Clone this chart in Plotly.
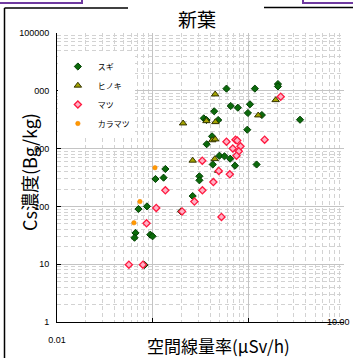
import plotly.graph_objects as go

# 空間線量率 (μSv/h) と Cs濃度 (Bg/kg) ― 樹種別
sugi_x = [0.591, 1.17, 2.04, 2.04, 0.655, 0.776, 1.04, 0.44, 0.99, 1.385, 3.47, 0.342, 0.365,
          0.484, 0.974, 0.418, 0.367, 0.499, 0.563, 0.646, 0.425, 0.725, 1.22, 0.308, 0.308,
          0.1357, 0.130, 0.107, 0.262, 0.0871, 0.0711, 0.198, 0.0662, 0.0646, 0.0944, 0.0998, 0.0822]
sugi_y = [10900, 10900, 13100, 11900, 5460, 5100, 5840, 4420, 4130, 3810, 3160, 3340, 3125,
          3125, 2120, 1630, 1190, 754, 736, 669, 531, 506, 531, 332, 283,
          444, 314, 298, 151, 100, 90, 82, 34.7, 28.7, 32.4, 30.4, 9.7]

hinoki_x = [0.45, 1.93, 1.27, 0.208, 0.365, 0.453, 0.42, 0.45, 0.262, 0.446, 0.484]
hinoki_y = [8700, 6930, 3770, 2740, 3000, 2885, 1400, 1450, 622, 661, 415]

matsu_x = [2.18, 0.591, 0.734, 0.765, 1.48, 0.688, 0.828, 0.795, 0.752, 0.33, 0.491, 0.64,
           0.431, 0.1357, 0.331, 0.273, 0.109, 0.203, 0.524, 0.0863, 0.0564, 0.0791]
matsu_y = [7900, 1316, 1426, 1380, 1426, 1004, 1096, 898, 754, 618, 410, 359,
           264, 190, 190, 121, 94, 82, 65.6, 51, 9.8, 9.8]

karamatsu_x = [0.1057, 0.0736, 0.0637]
karamatsu_y = [467, 121, 52]

y_tick_vals = [1, 10, 100, 1000, 10000, 100000]
y_tick_text = ["1", "10", "100", "000", "000", "100000"]
x_tick_vals = [0.01, 0.1, 1, 10]
x_tick_text = ["0.01", "", "", ""]
x_end_label = "10.00"

JP = "Noto Sans CJK JP"
LAT = "Liberation Sans, Arial, sans-serif"

fig = go.Figure()
fig.add_trace(go.Scatter(
    x=sugi_x, y=sugi_y, mode="markers", name="スギ",
    marker=dict(symbol="diamond", size=5.5, color="#0b6a0b", line=dict(color="#034003", width=1))))
fig.add_trace(go.Scatter(
    x=hinoki_x, y=hinoki_y, mode="markers", name="ヒノキ",
    marker=dict(symbol="triangle-up", size=6.5, color="#a3a300", line=dict(color="#333300", width=1))))
fig.add_trace(go.Scatter(
    x=matsu_x, y=matsu_y, mode="markers", name="マツ",
    marker=dict(symbol="diamond", size=5.5, color="#ffb3c6", line=dict(color="#ff1a40", width=1.3))))
fig.add_trace(go.Scatter(
    x=karamatsu_x, y=karamatsu_y, mode="markers", name="カラマツ",
    marker=dict(symbol="circle", size=4.5, color="#ff9900", line=dict(color="#f08000", width=0.5))))

W, H = 353, 358
L, R, T, B = 57, 344, 33, 322  # plot area edges in px


def px(x):
    return (x - L) / (R - L)


def py(y):
    return (B - y) / (B - T)


axis_common = dict(
    type="log",
    showgrid=True, gridcolor="#c4c4c4", gridwidth=1,
    minor=dict(showgrid=True, gridcolor="#d2d2d2", griddash="4px,3px", gridwidth=1, dtick="D1", ticks=""),
    showline=True, linecolor="#000000", linewidth=1,
    ticks="inside", ticklen=4, tickcolor="#000000",
    tickfont=dict(family=LAT, size=9, color="#000000"),
    zeroline=False,
)

fig.update_xaxes(range=[-2, 1], tickmode="array", tickvals=x_tick_vals, ticktext=x_tick_text,
                 ticklabelstandoff=9, **axis_common)
fig.update_yaxes(range=[0, 5], tickmode="array", tickvals=y_tick_vals, ticktext=y_tick_text,
                 ticklabelstandoff=5, **axis_common)

shapes = [
    # outer frame
    dict(type="line", xref="paper", yref="paper", x0=px(4.5), x1=px(4.5), y0=py(8), y1=py(362),
         line=dict(color="#000000", width=1.5)),
    dict(type="line", xref="paper", yref="paper", x0=px(4.5), x1=px(128), y0=py(8), y1=py(8),
         line=dict(color="#000000", width=1.5)),
    dict(type="line", xref="paper", yref="paper", x0=px(264), x1=px(356), y0=py(7.5), y1=py(7.5),
         line=dict(color="#000000", width=1.5)),
    # header tabs
    dict(type="rect", xref="paper", yref="paper", x0=px(-4), x1=px(82), y0=py(3), y1=py(-6),
         line=dict(color="#6f3aa0", width=2), fillcolor="#ffffff"),
    dict(type="rect", xref="paper", yref="paper", x0=px(303), x1=px(360), y0=py(3), y1=py(-6),
         line=dict(color="#6f3aa0", width=2), fillcolor="#ffffff"),
]

annotations = [
    dict(text="Cs濃度(Bg/kg)", xref="paper", yref="paper", x=px(29), y=py(172),
         textangle=-90, showarrow=False, xanchor="center", yanchor="middle",
         font=dict(family=JP, size=18, color="#000000")),
    dict(text="空間線量率(μSv/h)", xref="paper", yref="paper", x=px(218), y=py(345),
         showarrow=False, xanchor="center", yanchor="middle",
         font=dict(family=JP, size=17, color="#000000")),
    dict(text=x_end_label, xref="paper", yref="paper", x=px(352), y=py(322), showarrow=False,
         xanchor="right", yanchor="middle", font=dict(family=LAT, size=9, color="#000000")),
]

fig.update_layout(
    width=W, height=H,
    margin=dict(l=L, r=W - R, t=T, b=H - B, autoexpand=False),
    paper_bgcolor="#ffffff", plot_bgcolor="#ffffff",
    title=dict(text="新葉", x=197 / W, xanchor="center", y=1 - 20 / H, yanchor="middle",
               font=dict(family=JP, size=19, color="#000000")),
    showlegend=True,
    legend=dict(x=0.003, y=py(52), xanchor="left", yanchor="top",
                bgcolor="#ffffff", borderwidth=0,
                font=dict(family=JP, size=8, color="#000000"),
                itemwidth=30, tracegroupgap=0),
    shapes=shapes,
    annotations=annotations,
)

fig.write_html("out.html")
